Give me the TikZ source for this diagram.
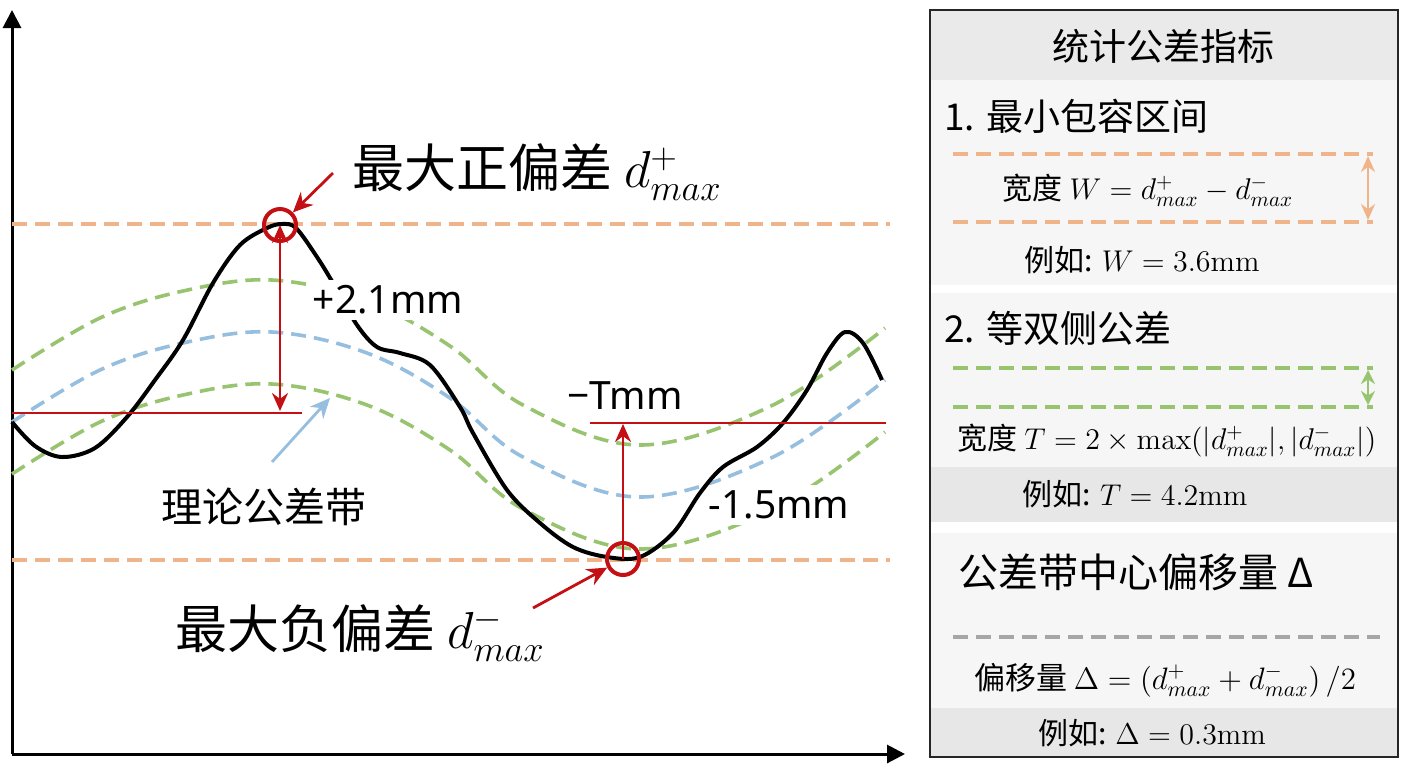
\documentclass[tikz,border=0pt]{standalone}
\usepackage{fix-cm}
\usepackage[no-math]{fontspec}
\setmainfont{Noto Sans CJK SC}
\newfontfamily\latin{Noto Sans}
\usetikzlibrary{arrows.meta,positioning}

\definecolor{tolorange}{RGB}{240,180,138}
\definecolor{tolgreen}{RGB}{152,196,112}
\definecolor{tolblue}{RGB}{150,190,222}
\definecolor{devred}{RGB}{196,16,20}
\definecolor{panelbg}{RGB}{246,246,246}
\definecolor{titlebg}{RGB}{234,234,234}
\definecolor{examplebg}{RGB}{231,231,231}

\begin{document}
\begin{tikzpicture}[
  x=0.5pt, y=-0.5pt,
  axisline/.style={line width=1.5pt,-{Triangle[length=9pt,width=9pt]}},
  bandline/.style={line width=1.8pt,dash pattern=on 7.5pt off 4pt},
  profile/.style={line width=2pt,black},
  devcircle/.style={circle,draw=devred,line width=2pt,minimum size=16pt,inner sep=0pt},
  devarrow/.style={devred,line width=1.2pt},
  refline/.style={devred,line width=1.2pt},
  ptr/.style={devred,line width=1.4pt,-{Stealth[length=10pt,width=9pt]}},
  biglbl/.style={font=\fontsize{26}{30}\selectfont,inner sep=2pt},
  vallbl/.style={font=\latin\fontsize{19.5}{23}\selectfont,inner sep=3pt},
  hdr/.style={font=\fontsize{18.5}{22}\selectfont,inner sep=0pt},
  formula/.style={font=\fontsize{15}{18}\selectfont,inner sep=0pt}
]
\useasboundingbox (0,0) rectangle (1408,768);

% axes
\coordinate (origin) at (12,754);
\coordinate (ytip) at (12,10);
\coordinate (xtip) at (905,754);
\draw[axisline] (origin) -- (ytip);
\draw[axisline] (origin) -- (xtip);

% extreme deviation lines
\draw[bandline,tolorange] (12,224) -- (890,224);
\draw[bandline,tolorange] (12,560) -- (890,560);

% theoretical tolerance band
\foreach \off/\col in {-52/tolgreen,0/tolblue,52/tolgreen}{
  \draw[bandline,\col,shift={(0,\off)}] plot[smooth,tension=0.6] coordinates {
    (12,422) (100,370) (183,343) (272,332) (367,353) (450,398)
    (523,457) (640,497) (773,457) (885,380)};
}

\node[vallbl,fill=white] (minusval) at (779,505) {-1.5mm};

% measured profile
\draw[profile] plot[smooth,tension=0.55] coordinates {
  (12,422) (35,446) (62,457) (95,448) (127,417) (155,380) (183,340)
  (213,283) (240,245) (267,228) (282,224) (296,228) (317,257) (333,283)
  (357,325) (377,347) (400,353) (430,365) (460,407) (473,433) (507,490)
  (540,523) (573,547) (607,557) (640,557) (673,533) (700,493) (723,467)
  (757,447) (783,423) (807,390) (827,353) (845,332) (863,343) (882,380)};

\node[vallbl,fill=white] (plusval) at (388,300) {+2.1mm};
\node[vallbl] (tval) at (625,396) {−Tmm};
\node[vallbl,font=\fontsize{20.5}{24}\selectfont] (bandlbl) at (264,507) {理论公差带};

% reference levels and deviations
\draw[refline] (12,413) -- (302,413);
\draw[refline] (590,423) -- (886,423);
\node[devcircle] (pmax) at (280,225) {};
\node[devcircle] (nmax) at (623,559) {};
\coordinate (pbase) at (280,411);
\coordinate (nbase) at (623,424);
\draw[devarrow,{Stealth[length=9pt,width=8pt]}-{Stealth[length=9pt,width=8pt]}] (pmax.center) -- (pbase);
\draw[devarrow,-{Stealth[length=9pt,width=8pt]}] (nmax.center) -- (nbase);

\node[biglbl,anchor=west] (pmaxlbl) at (348,172) {最大正偏差 $d^+_{max}$};
\node[biglbl,anchor=west] (nmaxlbl) at (171,633) {最大负偏差 $d^-_{max}$};
\coordinate (ptail) at (333,173);
\coordinate (ntail) at (533,608);
\draw[ptr] (ptail) -- (pmax);
\draw[ptr] (ntail) -- (nmax);

\coordinate (bandtail) at (272,462);
\coordinate (bandtip) at (330,398);
\draw[tolblue,line width=1.4pt,-{Stealth[length=10pt,width=9pt]}] (bandtail) -- (bandtip);

% statistics panel
\fill[titlebg] (931,11) rectangle (1397,80);
\fill[panelbg] (931,80) rectangle (1397,285);
\fill[panelbg] (931,293) rectangle (1397,467);
\fill[examplebg] (931,467) rectangle (1397,522);
\fill[panelbg] (931,533) rectangle (1397,708);
\fill[examplebg] (931,708) rectangle (1397,756);
\draw[line width=1pt,black!85] (930,10) rectangle (1398,757);

\node[hdr] (paneltitle) at (1163,46) {统计公差指标};

\node[hdr,anchor=west] (sec1) at (944,116) {1. 最小包容区间};
\draw[bandline,tolorange] (953,154) -- (1373,154);
\draw[bandline,tolorange] (953,222) -- (1373,222);
\draw[tolorange,line width=1.2pt,{Stealth[length=8pt,width=7pt]}-{Stealth[length=8pt,width=7pt]}] (1368,156) -- (1368,220);
\node[formula] (wformula) at (1148,190) {宽度 $W = d^+_{max} - d^-_{max}$};
\node[formula] (wexample) at (1142,260) {例如: $W = 3.6\mathrm{mm}$};

\node[hdr,anchor=west] (sec2) at (944,328) {2. 等双侧公差};
\draw[bandline,tolgreen] (953,368) -- (1373,368);
\draw[bandline,tolgreen] (953,407) -- (1373,407);
\draw[tolgreen,line width=1.2pt,{Stealth[length=7pt,width=7pt]}-{Stealth[length=7pt,width=7pt]}] (1368,370) -- (1368,405);
\node[formula] (tformula) at (1167,440) {宽度 $T = 2\times\max(|d^+_{max}|,|d^-_{max}|)$};
\node[formula] (texample) at (1135,494) {例如: $T = 4.2\mathrm{mm}$};

\node[hdr,anchor=west,font=\fontsize{20}{24}\selectfont] (sec3) at (958,572) {公差带中心偏移量 Δ};
\draw[bandline,black!35] (953,637) -- (1380,637);
\node[formula,font=\fontsize{15.5}{18}\selectfont] (dformula) at (1165,680) {偏移量 $\Delta = \left(d^+_{max} + d^-_{max}\right) / 2$};
\node[formula] (dexample) at (1152,733) {例如: $\Delta = 0.3\mathrm{mm}$};
\end{tikzpicture}
\end{document}
